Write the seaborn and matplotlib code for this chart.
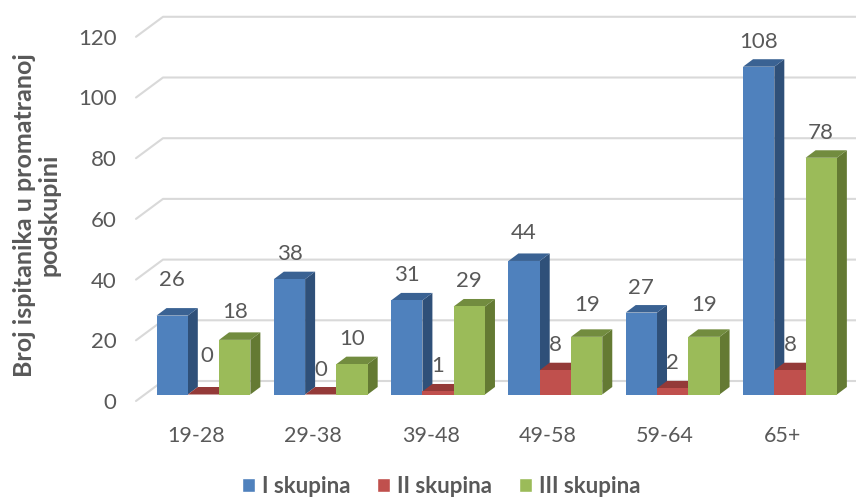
# 3D look clustered bars, excel style
import pandas as pd
import seaborn as sns
from matplotlib import pyplot as plt
from matplotlib.patches import Polygon
from matplotlib.transforms import ScaledTranslation

# Data
age_groups = ['19-28', '29-38', '39-48', '49-58', '59-64', '65+']
group_1 = [26, 38, 31, 44, 27, 108]
group_2 = [0, 0, 1, 8, 2, 8]
group_3 = [18, 10, 29, 19, 19, 78]
series_names = ['I skupina', 'II skupina', 'III skupina']
y_ticks = [0, 20, 40, 60, 80, 100, 120]

# Colours: front, side, top
front_colors = ['#4F81BD', '#C0504D', '#9BBB59']
side_colors = ['#2F5079', '#7F3230', '#647A33']
top_colors = ['#3A6293', '#943A38', '#728C3F']
grid_color = '#D9D9D9'
text_color = '#595959'

sns.set_theme(style='white')
plt.rcParams['font.family'] = ['Lato', 'DejaVu Sans']

df = pd.DataFrame({'group': age_groups * 3,
                   'skupina': [s for s in series_names for _ in age_groups],
                   'count': group_1 + group_2 + group_3})

W, H = 856, 500
fig = plt.figure(figsize=(W / 100, H / 100), dpi=100)
ax = fig.add_axes([136 / W, (H - 401) / H, (W - 136) / W, 391 / H])

sns.barplot(data=df, x='group', y='count', hue='skupina', palette=front_colors,
            width=0.8, gap=0, saturation=1, ax=ax)

# pixels per data unit
px_x = 117.3
px_y = 3.035
ax.set_xlim(-0.575, -0.575 + (W - 136) / px_x)
ax.set_ylim(-6.5 / px_y, -6.5 / px_y + 391 / px_y)

# Depth of the bars and of the chart floor
bar_dx, bar_dy = 10 / px_x, 7.5 / px_y
wall_dx, wall_dy = 27 / px_x, 20 / px_y
x_left = ax.get_xlim()[0]
y_front = ax.get_ylim()[0]

# Back wall grid with the slanted part on the left
for v in y_ticks:
    ax.plot([x_left, x_left + wall_dx, ax.get_xlim()[1]],
            [v + y_front, v + y_front + wall_dy, v + y_front + wall_dy],
            color=grid_color, lw=1.5, zorder=1, clip_on=False)

# Side and top faces for every bar
for i, container in enumerate(ax.containers):
    for bar in container:
        x0, w, h = bar.get_x(), bar.get_width(), bar.get_height()
        x1 = x0 + w
        bar.set_zorder(4 + i * 2 + 0.5)
        bar.set_edgecolor('none')
        side = Polygon([(x1, 0), (x1 + bar_dx, bar_dy), (x1 + bar_dx, h + bar_dy), (x1, h)],
                       facecolor=side_colors[i], edgecolor='none', zorder=4 + i * 2)
        top = Polygon([(x0, h), (x0 + bar_dx, h + bar_dy), (x1 + bar_dx, h + bar_dy), (x1, h)],
                      facecolor=top_colors[i], edgecolor='none', zorder=4 + i * 2)
        ax.add_patch(side)
        ax.add_patch(top)

# Value labels, go behind the bars like in the original
label_lift = {(0, 0): 36, (0, 1): 39, (0, 2): 28, (3, 0): 28, (3, 2): 32, (5, 2): 25, (4, 2): 32}
label_shift = {(0, 1): 3.5}
all_values = [group_1, group_2, group_3]
for i, container in enumerate(ax.containers):
    for j, bar in enumerate(container):
        lift = label_lift.get((j, i), 25)
        shift = label_shift.get((j, i), 0)
        ax.annotate(str(all_values[i][j]),
                    (bar.get_x() + bar.get_width() / 2, bar.get_height()),
                    xytext=(shift * 0.72, lift * 0.72), textcoords='offset points',
                    ha='center', va='center', fontsize=16, color=text_color, zorder=3)

# Axes
sns.despine(ax=ax, left=True, bottom=True)
ax.set_xlabel('')
ax.set_ylabel('')
ax.set_yticks(y_ticks)
ax.tick_params(axis='both', length=0, labelcolor=text_color)
ax.tick_params(axis='y', pad=14, labelsize=16)
ax.tick_params(axis='x', pad=18, labelsize=15.5)
ax.patch.set_alpha(0)

x_off = ScaledTranslation(-7.5 / 100, 0, fig.dpi_scale_trans)
y_off = ScaledTranslation(0, -6.5 / 100, fig.dpi_scale_trans)
for lab in ax.get_xticklabels():
    lab.set_transform(lab.get_transform() + x_off)
for lab in ax.get_yticklabels():
    lab.set_transform(lab.get_transform() + y_off)

fig.text(37 / W, (H - 215) / H, 'Broj ispitanika u promatranoj\npodskupini', rotation=90,
         ha='center', va='center', multialignment='center', fontsize=18,
         fontweight='bold', color=text_color, linespacing=1.1)

# Legend along the bottom
sns.move_legend(ax, 'lower center', bbox_to_anchor=(441 / W, -0.012), bbox_transform=fig.transFigure,
                ncol=3, frameon=False, title=None, handlelength=0.6, handleheight=0.6,
                handletextpad=0.3, columnspacing=1.2, borderaxespad=0,
                prop={'weight': 'bold', 'size': 16})
for t in ax.get_legend().get_texts():
    t.set_color(text_color)

fig.savefig('out.png', dpi=100)
